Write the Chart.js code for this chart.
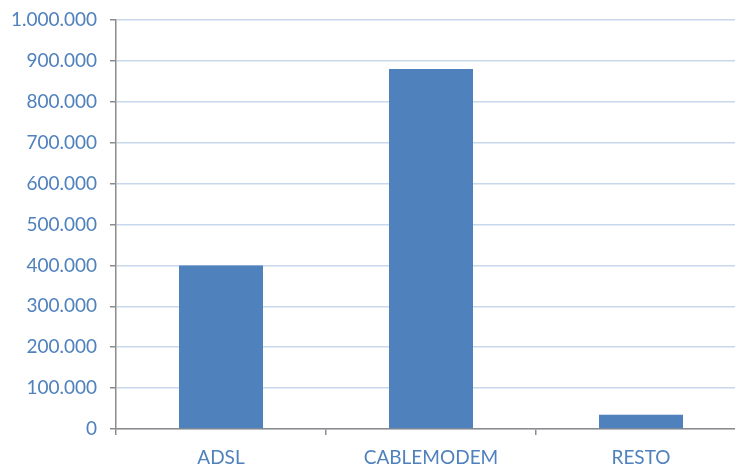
<!DOCTYPE html>
<html lang="es">
<head>
<meta charset="UTF-8">
<title>Accesos</title>
<style>
  html, body { margin: 0; padding: 0; overflow: hidden; background: #fff; }
  #chart-container { width: 750px; height: 468px; }
</style>
</head>
<body>
<div id="chart-container">
  <canvas id="myChart"></canvas>
</div>
<script src="https://cdn.jsdelivr.net/npm/chart.js@4.4.0/dist/chart.umd.min.js"></script>
<script>
const categories = ['ADSL', 'CABLEMODEM', 'RESTO']
const accesos = [400000, 880000, 35000]

const labelColor = '#4f81bd'
const axisColor = '#8c8c8c'

function fmt(v) {
  return String(v).replace(/\B(?=(\d{3})+(?!\d))/g, '.')
}

new Chart(document.getElementById('myChart'), {
  type: 'bar',
  data: {
    labels: categories,
    datasets: [{
      data: accesos,
      backgroundColor: '#4f81bd',
      barPercentage: 0.8,
      categoryPercentage: 0.5
    }]
  },
  options: {
    responsive: true,
    maintainAspectRatio: false,
    animation: false,
    layout: { padding: { top: 20, right: 4, left: 0, bottom: 0 } },
    plugins: { legend: { display: false }, tooltip: { enabled: false } },
    scales: {
      x: {
        afterFit: s => { s.height = 39 },
        grid: { offset: true, drawOnChartArea: false, drawTicks: true, tickLength: 6, color: axisColor, lineWidth: 1.5 },
        border: { color: axisColor, width: 1.5 },
        ticks: { color: labelColor, font: { family: 'Lato', size: 19 }, padding: 11 }
      },
      y: {
        min: 0,
        max: 1000000,
        afterFit: s => { s.width = 116; s.paddingTop = 0; s.paddingBottom = 0 },
        grid: { color: '#c8d7eb', lineWidth: 1.5, tickColor: axisColor, tickLength: 6 },
        border: { color: axisColor, width: 1.5 },
        ticks: { stepSize: 100000, color: labelColor, font: { family: 'Lato', size: 19 }, padding: 13, callback: v => fmt(v) }
      }
    }
  }
})
</script>
</body>
</html>
